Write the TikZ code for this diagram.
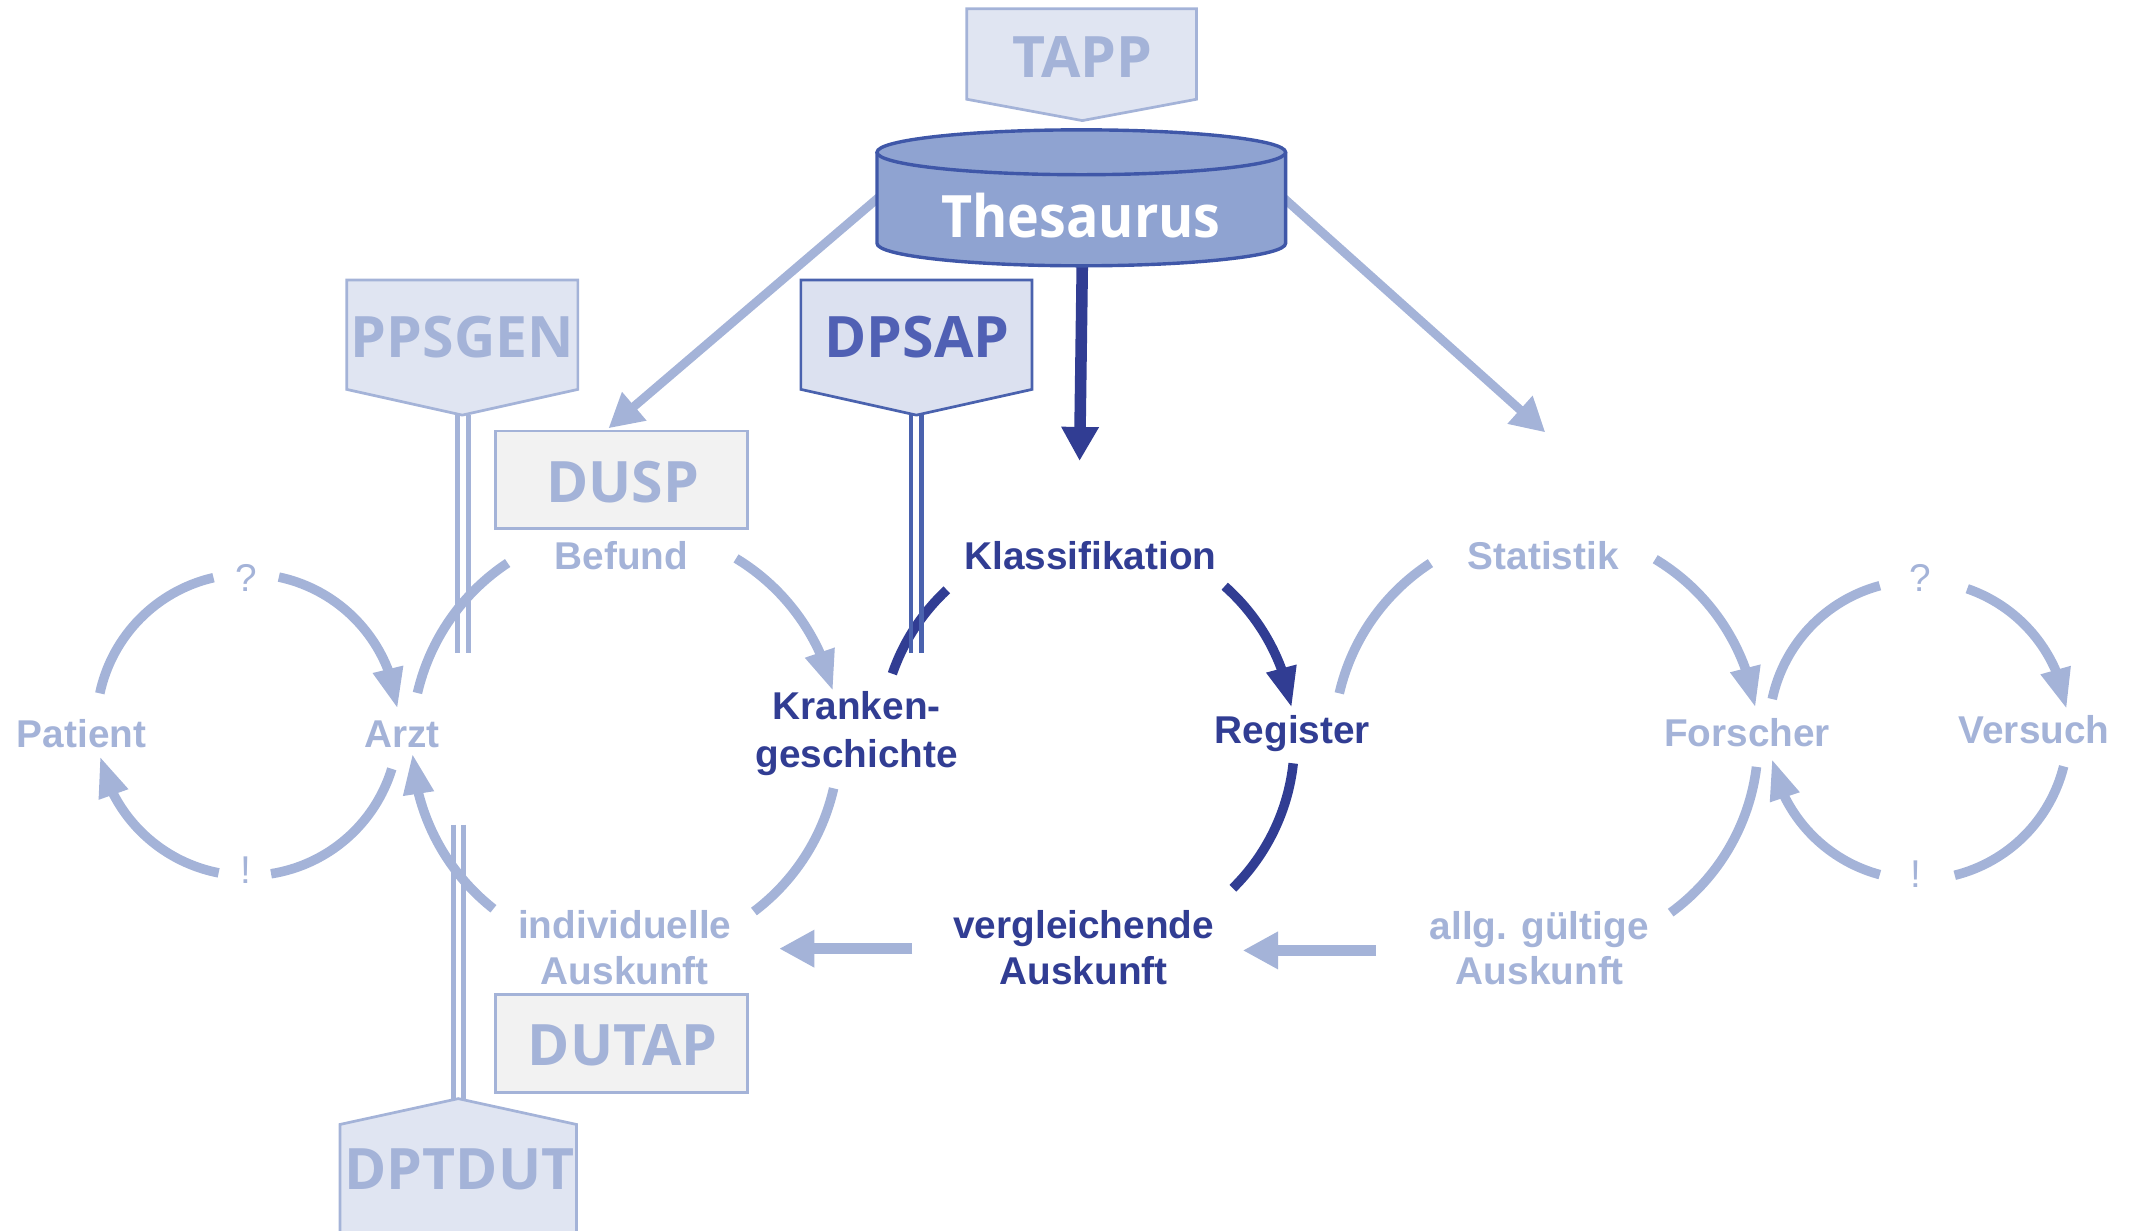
\documentclass[tikz,border=0pt]{standalone}
\usepackage{fontspec}
\setmainfont{Liberation Sans}
\newfontfamily\boxfont{Open Sans}
\newfontfamily\thesfont[FakeStretch=0.92]{Open Sans}
\usetikzlibrary{arrows.meta,bending}
\definecolor{lb}{HTML}{A4B3D8}
\definecolor{dk}{HTML}{313D93}
\definecolor{pfill}{HTML}{E0E5F2}
\definecolor{pfilld}{HTML}{DCE1F0}
\definecolor{gfill}{HTML}{F2F2F2}
\definecolor{thfill}{HTML}{8FA3D1}
\definecolor{thdraw}{HTML}{3F57A8}
\definecolor{midtxt}{HTML}{5060B4}
\definecolor{midline}{HTML}{4A62AE}
\begin{document}
\begin{tikzpicture}[x=1pt,y=1pt,
  lbl/.style={font=\fontsize{28.5}{35}\selectfont\bfseries, anchor=base, inner sep=0pt},
  lite/.style={lbl, text=lb},
  darktxt/.style={lbl, text=dk},
  punct/.style={font=\fontsize{28.5}{35}\selectfont, anchor=base, inner sep=0pt, text=lb},
  boxlbl/.style={font=\boxfont\bfseries\fontsize{42}{50}\selectfont, anchor=base, inner sep=0pt},
  pent/.style={fill=pfill, draw=lb, line width=2pt},
  rectbox/.style={fill=gfill, draw=lb, line width=2pt},
  arcl/.style={draw=lb, line width=7pt},
  arcd/.style={draw=dk, line width=7pt},
  ahead/.style={-{Triangle[length=30pt,width=21pt,flex]}},
  thin2/.style={line width=3.6pt},
  bigarrow/.style={line width=6.5pt, -{Triangle[length=25pt,width=26pt]}},
  harrow/.style={draw=lb, line width=8pt, -{Triangle[length=26pt,width=26pt]}}
]
\useasboundingbox (0,0) rectangle (1568,905);

% circle centres
\coordinate (cL) at (182,372);
\coordinate (cA) at (460,360);
\coordinate (cM) at (800,360);
\coordinate (cR) at (1137,360);
\coordinate (cF) at (1411,368);

% arrows from thesaurus (behind cylinder)
\coordinate (thL) at (650,763);
\coordinate (thR) at (940,763);
\coordinate (thB) at (796,712);
\coordinate (tipL) at (447.5,590);
\coordinate (tipR) at (1136.5,587);
\coordinate (tipB) at (794,566);
\draw[lb, bigarrow] (thL) -- (tipL);
\draw[lb, bigarrow] (thR) -- (tipR);
\draw[dk, line width=8.5pt, -{Triangle[length=25pt,width=26pt]}] (thB) -- (tipB);

% Thesaurus cylinder
\fill[thfill] (645,793) -- (645,726) arc[start angle=180,end angle=360,x radius=150.25,y radius=16.5] -- (945.5,793) arc[start angle=0,end angle=180,x radius=150.25,y radius=16.5] -- cycle;
\draw[thdraw, line width=2.5pt] (645,793) -- (645,726) arc[start angle=180,end angle=360,x radius=150.25,y radius=16.5] -- (945.5,793);
\draw[thdraw, line width=2.5pt, fill=thfill] (795.25,793) ellipse[x radius=150.25, y radius=16.5];
\node[font=\thesfont\bfseries\fontsize{43}{50}\selectfont, text=white, anchor=base, inner sep=0pt] (thes) at (795,730.5) {Thesaurus};

% TAPP
\draw[pent] (711,898.5) -- (880,898.5) -- (880,832) -- (796,816.3) -- (711,832) -- cycle;
\node[boxlbl, text=lb] (tapp) at (796,848.3) {TAPP};

% PPSGEN
\draw[pent] (255,699) -- (425,699) -- (425,618.6) -- (340,599.7) -- (255,618.6) -- cycle;
\node[boxlbl, text=lb] (ppsgen) at (340,642) {PPSGEN};

% DPSAP
\draw[fill=pfilld, draw=midline, line width=2pt] (589,699) -- (759,699) -- (759,618.6) -- (674,599.7) -- (589,618.6) -- cycle;
\node[boxlbl, text=midtxt] (dpsap) at (674.5,642) {DPSAP};

% DUSP / DUTAP
\draw[rectbox] (364.5,516.2) rectangle (550,588);
\node[boxlbl, text=lb] (dusp) at (458,535.7) {DUSP};
\draw[rectbox] (364.5,101.4) rectangle (550,173.5);
\node[boxlbl, text=lb] (dutap) at (458,121.2) {DUTAP};

% DPTDUT
\fill[pfill] (250,-5) -- (250,78) -- (337,97) -- (424,78) -- (424,-5) -- cycle;
\draw[lb, line width=2pt] (250,-5) -- (250,78) -- (337,97) -- (424,78) -- (424,-5);
\node[boxlbl, text=lb] (dptdut) at (338,30.4) {DPTDUT};

% labels
\node[lite] (befund) at (457,486.2) {Befund};
\node[darktxt] (klass) at (802,486.2) {Klassifikation};
\node[lite] (stat) at (1135,486.2) {Statistik};
\node[punct] (q1) at (181,470.3) {?};
\node[punct] (q2) at (1412.5,470.3) {?};
\node[lite] (patient) at (60,355.3) {Patient};
\node[lite] (arzt) at (295.5,355.3) {Arzt};
\node[darktxt] (kr1) at (630,375.6) {Kranken-};
\node[darktxt] (kr2) at (630,340.7) {geschichte};
\node[darktxt] (register) at (950.5,358.2) {Register};
\node[lite] (forscher) at (1284.8,356.1) {Forscher};
\node[lite] (versuch) at (1496,358.2) {Versuch};
\node[punct] (ex1) at (181,255.5) {!};
\node[punct] (ex2) at (1409,252) {!};
\node[lite] (ind1) at (459.5,214.8) {individuelle};
\node[lite] (ind2) at (459.5,180.8) {Auskunft};
\node[darktxt] (ver1) at (797,214.8) {vergleichende};
\node[darktxt] (ver2) at (797,180.8) {Auskunft};
\node[lite] (allg1) at (1132,214.2) {allg. gültige};
\node[lite] (allg2) at (1132.5,180.8) {Auskunft};

% horizontal arrows
\coordinate (h1s) at (671,207.3);
\coordinate (h1e) at (573,207.3);
\coordinate (h2s) at (1012,206);
\coordinate (h2e) at (914,206);
\draw[harrow] (h1s) -- (h1e);
\draw[harrow] (h2s) -- (h2e);

% left circle Patient / Arzt
\draw[arcl] (cL) ++(168:111) arc[start angle=168,end angle=103,radius=111];
\draw[arcl, ahead] (cL) ++(78:111) arc[start angle=78,end angle=6,radius=111];
\draw[arcl] (cL) ++(-17:111) arc[start angle=-17,end angle=-81,radius=111];
\draw[arcl, ahead] (cL) ++(259:111) arc[start angle=259,end angle=192,radius=111];

% Arzt / Befund / Krankengeschichte / individuelle Auskunft
\draw[arcl] (cA) ++(167:157) arc[start angle=167,end angle=123.5,radius=157];
\draw[arcl, ahead] (cA) ++(58.8:157) arc[start angle=58.8,end angle=13.5,radius=157];
\draw[arcl] (cA) ++(-12.8:157) arc[start angle=-12.8,end angle=-53,radius=157];
\draw[arcl, ahead] (cA) ++(231.8:157) arc[start angle=231.8,end angle=183.3,radius=157];

% middle dark circle
\draw[arcd] (cM) ++(161:152) arc[start angle=161,end angle=133,radius=152];
\draw[arcd, ahead] (cM) ++(48.5:152) arc[start angle=48.5,end angle=9.2,radius=152];
\draw[arcd] (cM) ++(-6.2:152) arc[start angle=-6.2,end angle=-45.4,radius=152];

% right circle Statistik
\draw[arcl] (cR) ++(167:156) arc[start angle=167,end angle=123,radius=156];
\draw[arcl, ahead] (cR) ++(59:156) arc[start angle=59,end angle=9,radius=156];
\draw[arcl] (cR) ++(-7:156) arc[start angle=-7,end angle=-54,radius=156];

% far right circle Forscher / Versuch
\draw[arcl] (cF) ++(168:110) arc[start angle=168,end angle=105,radius=110];
\draw[arcl, ahead] (cF) ++(71:110) arc[start angle=71,end angle=8,radius=110];
\draw[arcl] (cF) ++(-14:110) arc[start angle=-14,end angle=-76,radius=110];
\draw[arcl, ahead] (cF) ++(255:110) arc[start angle=255,end angle=191,radius=110];

% double connector lines
\coordinate (pp1) at (336.5,599.7); \coordinate (pp1e) at (336.5,425);
\coordinate (pp2) at (344.3,599.7); \coordinate (pp2e) at (344.3,425);
\draw[lb, thin2] (pp1) -- (pp1e);
\draw[lb, thin2] (pp2) -- (pp2e);
\coordinate (dd1) at (333.5,298.5); \coordinate (dd1e) at (333.5,97);
\coordinate (dd2) at (341.2,298.5); \coordinate (dd2e) at (341.2,97);
\draw[lb, thin2] (dd1) -- (dd1e);
\draw[lb, thin2] (dd2) -- (dd2e);
\coordinate (ds1) at (670,599.7); \coordinate (ds1e) at (670,425);
\coordinate (ds2) at (678,599.7); \coordinate (ds2e) at (678,425);
\draw[midline, thin2] (ds1) -- (ds1e);
\draw[midline, thin2] (ds2) -- (ds2e);
\end{tikzpicture}
\end{document}
